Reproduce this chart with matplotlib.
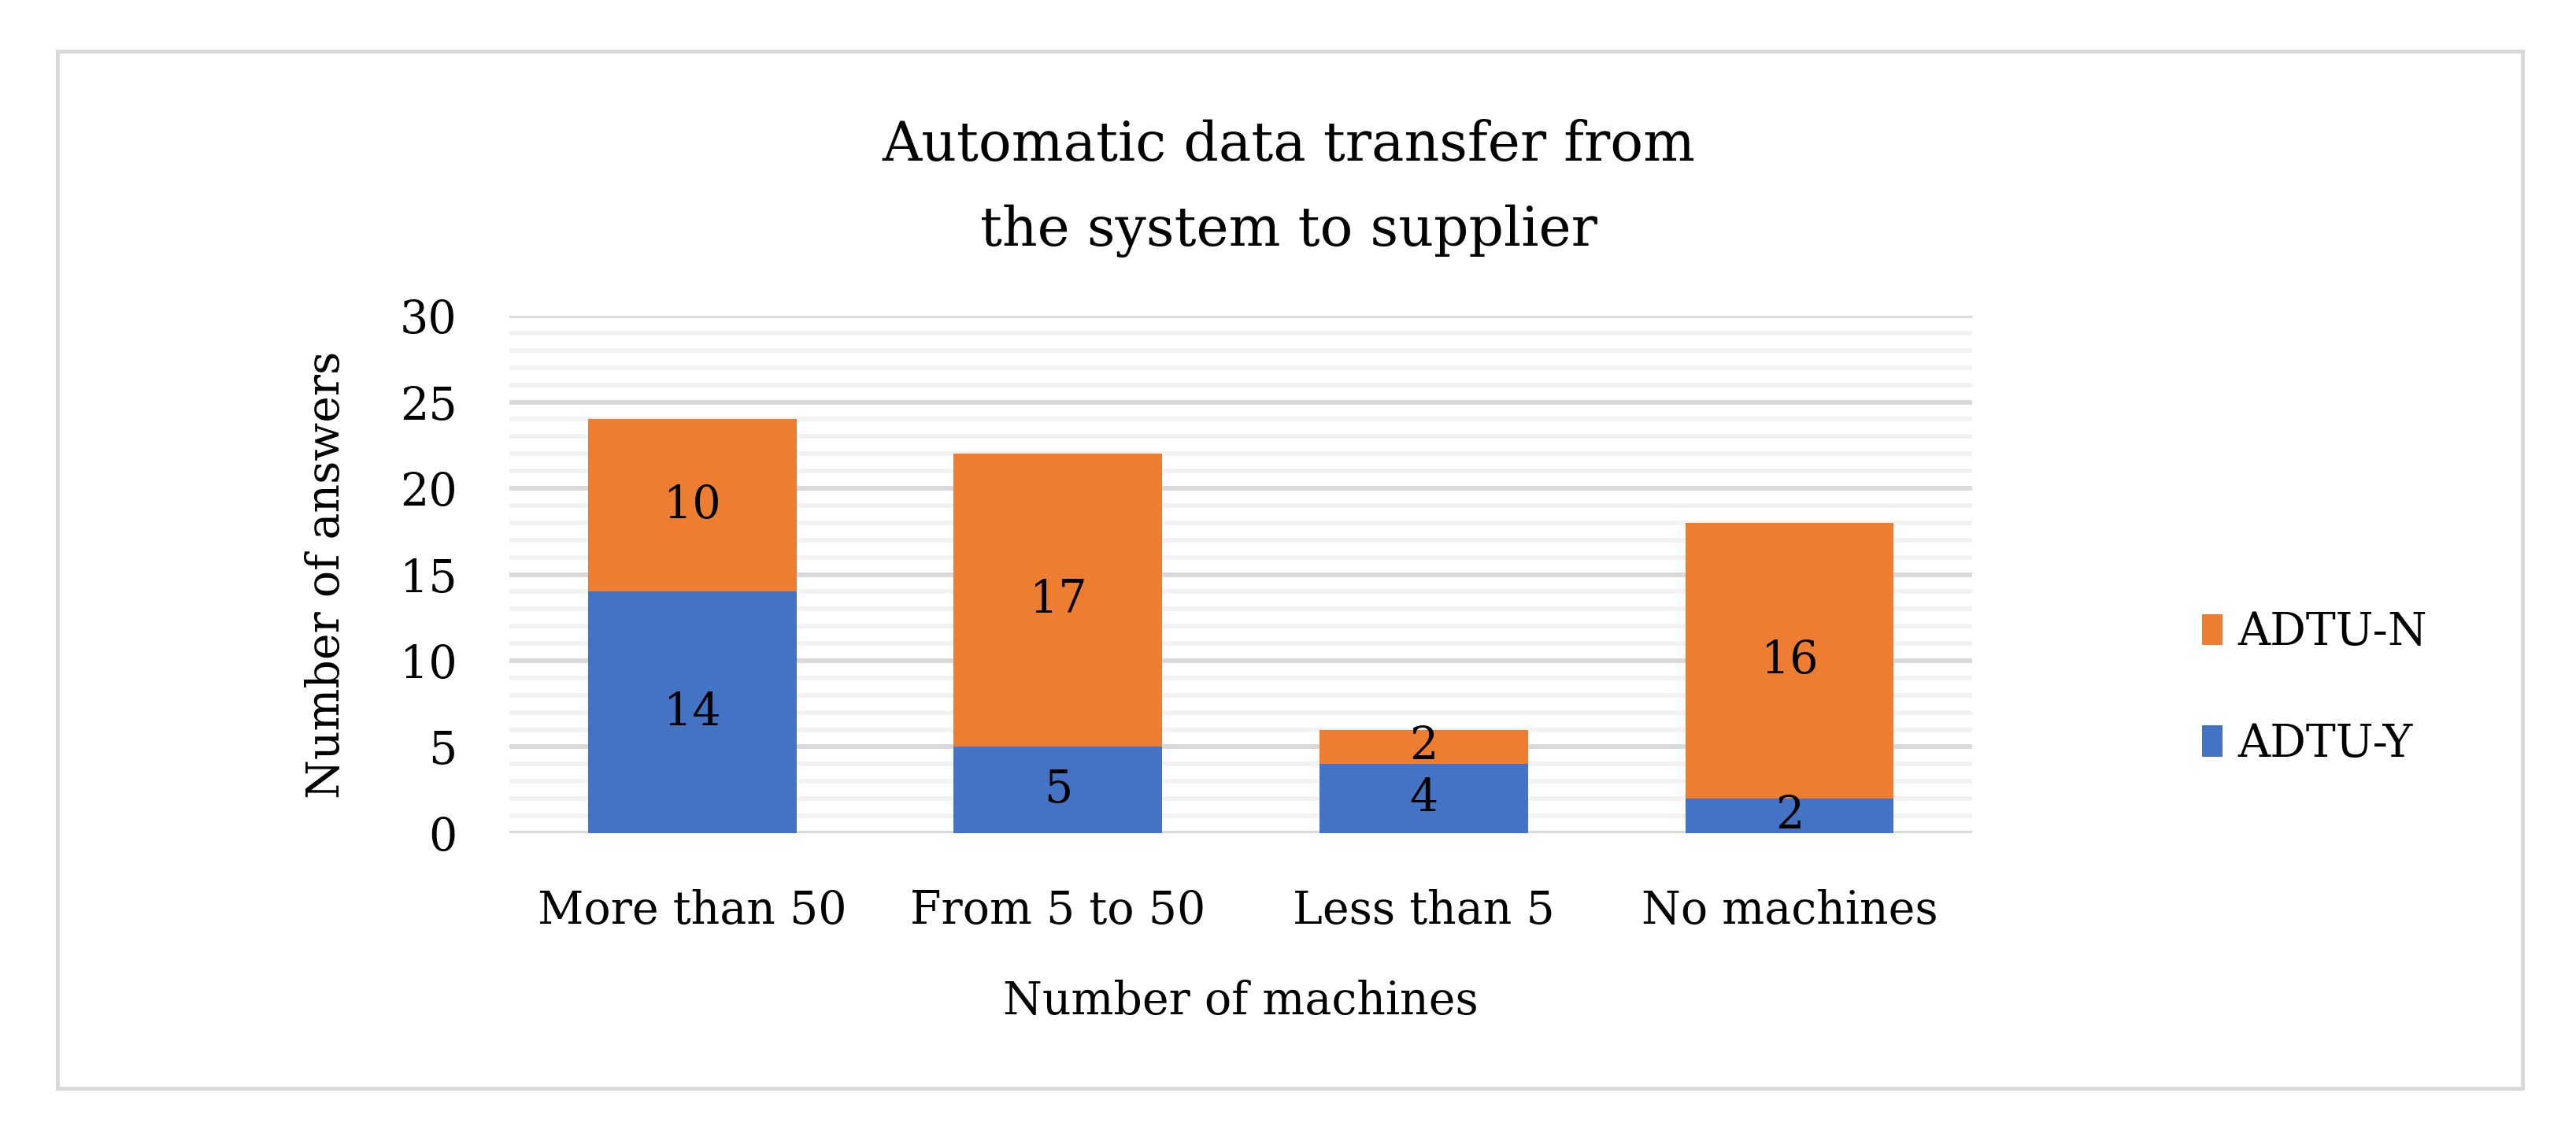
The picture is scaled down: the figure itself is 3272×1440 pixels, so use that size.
import numpy as np
import matplotlib.pyplot as plt
from matplotlib.patches import Rectangle
from matplotlib.ticker import MultipleLocator

plt.rcParams['font.family'] = ['DejaVu Serif']

categories = ['More than 50', 'From 5 to 50', 'Less than 5', 'No machines']
adtu_y = [14, 5, 4, 2]
adtu_n = [10, 17, 2, 16]
yticks = [0, 5, 10, 15, 20, 25, 30]

blue = '#4472C4'
orange = '#ED7D31'
fs = 41

fig = plt.figure(figsize=(32.73, 14.4), dpi=100)
ax = fig.add_axes([0.1977, 0.2653, 0.5677, 0.4562])

x = np.arange(len(categories))
width = 0.57
b1 = ax.bar(x, adtu_y, width, color=blue, label='ADTU-Y', zorder=3)
b2 = ax.bar(x, adtu_n, width, bottom=adtu_y, color=orange, label='ADTU-N', zorder=3)

# value labels centred in each segment
for vals, base in [(adtu_y, [0] * 4), (adtu_n, adtu_y)]:
    for xi, v, b in zip(x, vals, base):
        ax.text(xi, b + v / 2, str(v), ha='center', va='center', fontsize=fs, zorder=4)

ax.set_xlim(-0.5, len(categories) - 0.5)
ax.set_ylim(0, 30)
ax.set_yticks(yticks)
ax.yaxis.set_minor_locator(MultipleLocator(1))
ax.grid(which='minor', axis='y', color='#F2F2F2', linewidth=4.2, zorder=0)
ax.grid(which='major', axis='y', color='#D9D9D9', linewidth=4.2, zorder=1)
ax.set_axisbelow(True)
for s in ax.spines.values():
    s.set_visible(False)
ax.tick_params(which='both', length=0)
ax.tick_params(axis='y', pad=48, labelsize=fs)
ax.tick_params(axis='x', pad=51, labelsize=fs)
ax.set_xticks(x)
ax.set_xticklabels(categories)

ax.set_ylabel('Number of answers', fontsize=fs)
ax.yaxis.set_label_coords(-0.1098, 0.5)
ax.set_xlabel('Number of machines', fontsize=fs)
ax.xaxis.set_label_coords(0.5, -0.283)

fig.text(0.5, 0.834, 'Automatic data transfer from\nthe system to supplier',
         ha='center', va='center', fontsize=50, linespacing=1.8)

fig.legend(handles=[b2, b1], labels=['ADTU-N', 'ADTU-Y'], loc='center left',
           bbox_to_anchor=(0.839, 0.393), frameon=False, fontsize=fs,
           handlelength=0.45, handleheight=0.7, handletextpad=0.35, labelspacing=1.5)

fig.patches.append(Rectangle((0.0223, 0.0403), 0.9567, 0.9146, transform=fig.transFigure,
                             fill=False, edgecolor='#D9D9D9', linewidth=3.6))

fig.savefig('out.png', dpi=100)
